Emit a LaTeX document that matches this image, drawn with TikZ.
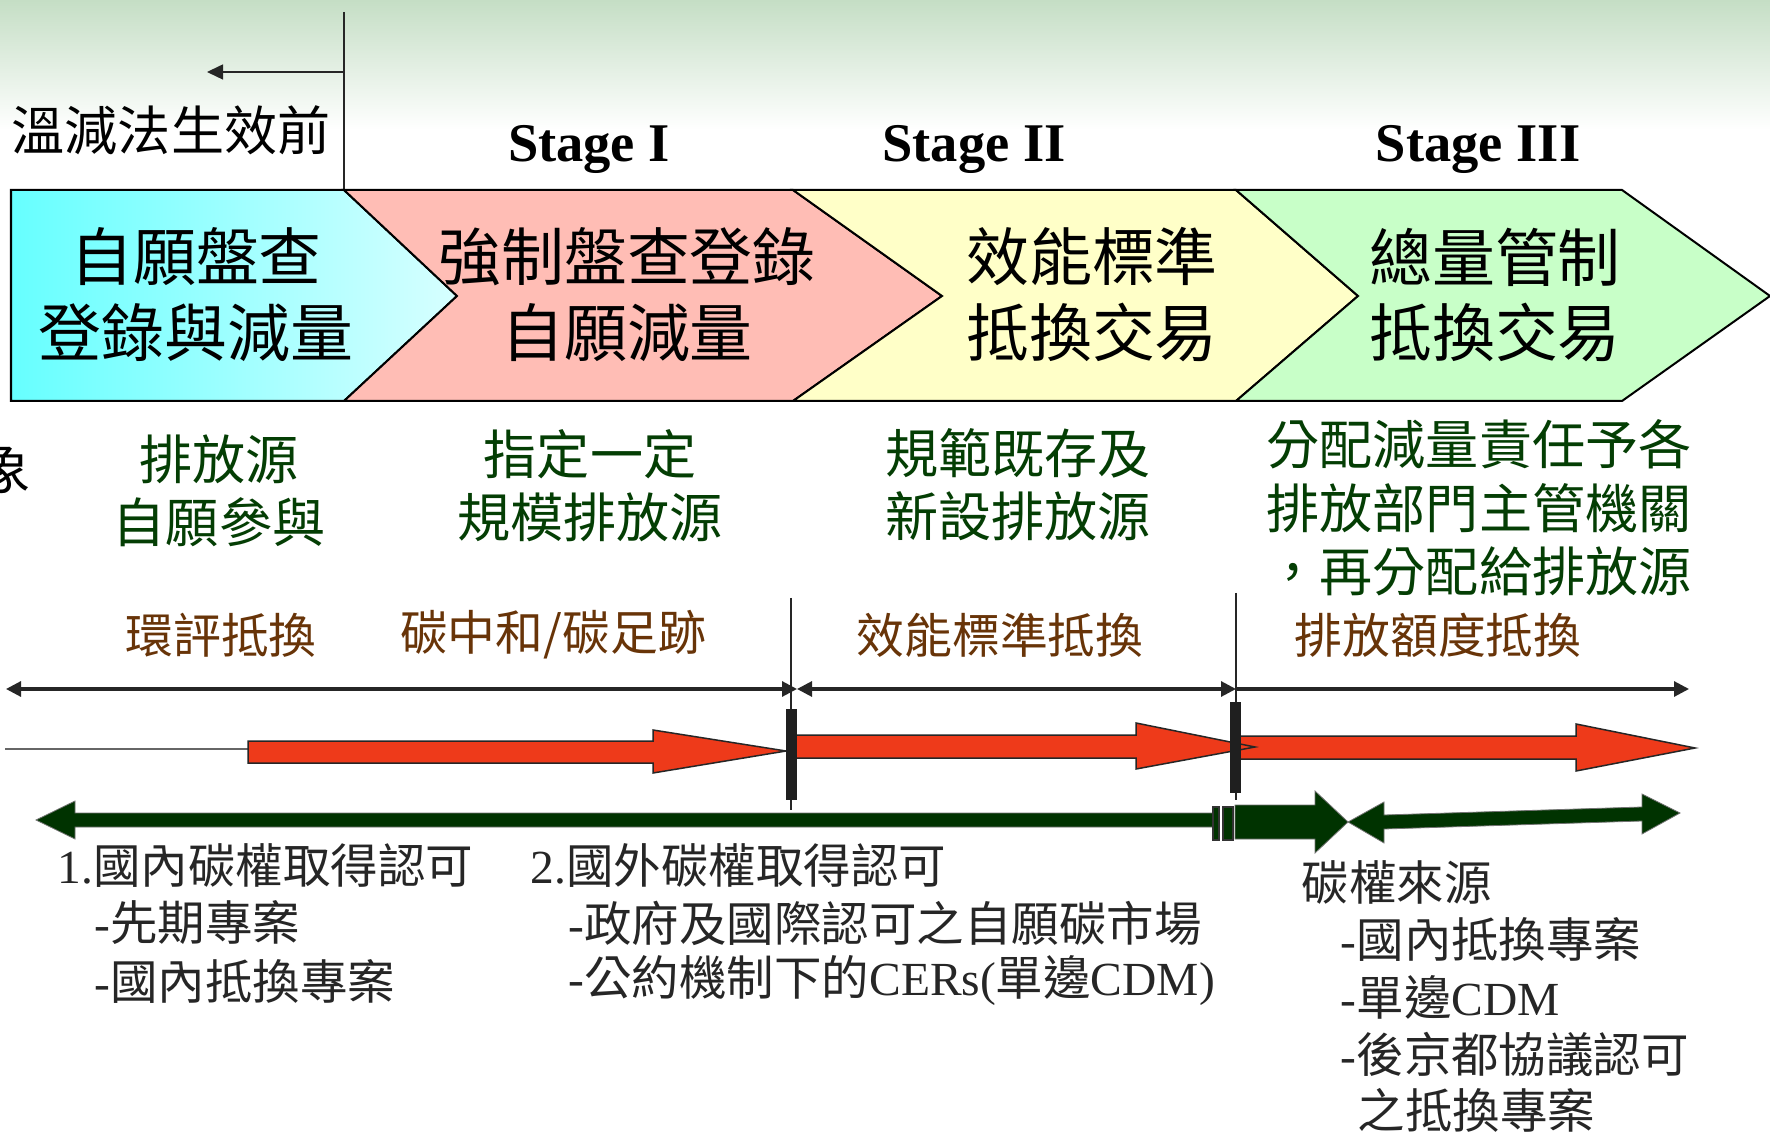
\documentclass[tikz,border=0pt]{standalone}
\usepackage{fontspec}
\setmainfont{Liberation Serif}
\newfontfamily\cj{Noto Sans CJK TC}
\usetikzlibrary{arrows.meta}
\definecolor{bggreen}{RGB}{197,222,197}
\definecolor{cyanL}{RGB}{102,255,255}
\definecolor{cyanR}{RGB}{215,255,255}
\definecolor{pinkF}{RGB}{255,189,181}
\definecolor{yellowF}{RGB}{255,255,200}
\definecolor{greenF}{RGB}{200,255,200}
\definecolor{tgreen}{RGB}{4,62,4}
\definecolor{tbrown}{RGB}{104,52,8}
\definecolor{tred}{RGB}{238,58,26}
\definecolor{dkgreen}{RGB}{0,51,0}
\tikzset{
  chev/.style={draw=black, line width=0.2mm},
  bigtxt/.style={font=\cj\fontsize{17.9}{21.6}\selectfont, align=center, inner sep=0},
  greentxt/.style={font=\cj\fontsize{15.1}{18}\selectfont, align=center, text=tgreen, inner sep=0},
  browntxt/.style={font=\cj\fontsize{13.6}{16}\selectfont, text=tbrown, inner sep=0},
  notetxt/.style={font=\fontsize{13.5}{16}\selectfont, text=black!85, anchor=west, inner sep=0},
  stagetxt/.style={font=\bfseries\fontsize{15.5}{18}\selectfont, anchor=base, inner sep=0},
  tline/.style={line width=0.3mm, draw=black!85},
  thinline/.style={line width=0.15mm, draw=black!85},
  redarrow/.style={fill=tred, draw=black!85, line width=0.15mm},
  grnarrow/.style={fill=dkgreen, draw=black!55, line width=0.08mm},
  bar/.style={fill=black!88, draw=black!88, line width=0.05mm},
}
\begin{document}
\begin{tikzpicture}[x=0.01cm,y=-0.01cm]
\useasboundingbox (0,0) rectangle (1770,1134);
\fill[white] (0,0) rectangle (1770,1134);
\shade[top color=bggreen, bottom color=white] (0,0) rectangle (1770,130);

% top marker
\coordinate (mtop) at (344,12);
\coordinate (mbot) at (344,190);
\coordinate (marr) at (344,72);
\coordinate (marrend) at (207,72);
\draw[thinline] (mtop) -- (mbot);
\draw[thinline, -{Triangle[length=1.6mm, width=1.5mm]}] (marr) -- (marrend);
\node[anchor=west, inner sep=0, font=\cj\fontsize{15.1}{18}\selectfont] (before) at (11,130) {溫減法生效前};

% stage labels
\node[stagetxt] (s1) at (589,162) {Stage I};
\node[stagetxt] (s2) at (974,162) {Stage II};
\node[stagetxt] (s3) at (1478,162) {Stage III};

% chevrons
\shade[left color=cyanL, right color=cyanR] (11,190) -- (344,190) -- (457,296) -- (344,401) -- (11,401) -- cycle;
\draw[chev] (11,190) -- (344,190) -- (457,296) -- (344,401) -- (11,401) -- cycle;
\draw[chev, fill=pinkF] (344,190) -- (793,190) -- (942,296) -- (793,401) -- (344,401) -- (457,296) -- cycle;
\draw[chev, fill=yellowF] (793,190) -- (1236,190) -- (1358,296) -- (1236,401) -- (793,401) -- (942,296) -- cycle;
\draw[chev, fill=greenF] (1236,190) -- (1622,190) -- (1770,296) -- (1622,401) -- (1236,401) -- (1358,296) -- cycle;

\node[bigtxt] (c1) at (196,295) {自願盤查\\登錄與減量};
\node[bigtxt] (c2) at (627,295) {強制盤查登錄\\自願減量};
\node[bigtxt] (c3) at (1092,295) {效能標準\\抵換交易};
\node[bigtxt] (c4) at (1495,295) {總量管制\\抵換交易};

% partially visible character at left edge
\node[inner sep=0, font=\cj\fontsize{15.5}{18}\selectfont] (cut) at (4,469) {象};

% green descriptions
\node[greentxt] (g1) at (219,491) {排放源\\自願參與};
\node[greentxt] (g2) at (590,486) {指定一定\\規模排放源};
\node[greentxt] (g3) at (1018,485) {規範既存及\\新設排放源};
\node[greentxt] (g4) at (1479,508) {分配減量責任予各\\排放部門主管機關\\，再分配給排放源};

% brown labels
\node[browntxt] (b1) at (221,635) {環評抵換};
\node[browntxt] (b2) at (553,635) {碳中和/碳足跡};
\node[browntxt] (b3) at (1000,635) {效能標準抵換};
\node[browntxt] (b4) at (1438,635) {排放額度抵換};

% timeline coordinates
\coordinate (t0) at (6,689);
\coordinate (t1) at (797,689);
\coordinate (t2) at (1236,689);
\coordinate (t3) at (1689,689);
\coordinate (v1a) at (791,598);
\coordinate (v1b) at (791,810);
\coordinate (v2a) at (1236,593);
\coordinate (v2b) at (1236,800);

\draw[thinline] (v1a) -- (v1b);
\draw[thinline] (v2a) -- (v2b);
\draw[tline, {Triangle[length=1.5mm, width=1.5mm]}-{Triangle[length=1.5mm, width=1.5mm]}] (t0) -- (t1);
\draw[tline, {Triangle[length=1.5mm, width=1.5mm]}-{Triangle[length=1.5mm, width=1.5mm]}] (t1) -- (t2);
\draw[tline, -{Triangle[length=1.5mm, width=1.5mm]}] (t2) -- (t3);

% red arrows
\coordinate (r0) at (5,749);
\coordinate (r1) at (248,749);
\draw[line width=0.2mm, draw=black!60] (r0) -- (r1);
\draw[redarrow] (1240,736) -- (1576,736) -- (1576,724) -- (1695,748) -- (1576,771) -- (1576,759) -- (1240,759) -- cycle;
\draw[redarrow] (248,741) -- (653,741) -- (653,730) -- (786,751) -- (653,773) -- (653,763) -- (248,763) -- cycle;
\draw[redarrow] (796,735) -- (1136,735) -- (1136,723) -- (1255,747) -- (1136,769) -- (1136,758) -- (796,758) -- cycle;
\fill[bar] (786,709) rectangle (796,799);
\fill[bar] (1230,702) rectangle (1240,792);

% green arrows
\draw[grnarrow] (36,820) -- (75,801) -- (75,813) -- (1213,813) -- (1213,827) -- (75,827) -- (75,839) -- cycle;
\draw[grnarrow, draw=black!80, line width=0.12mm] (1213,807) rectangle (1219,840);
\draw[grnarrow, draw=black!80, line width=0.12mm] (1223,807) rectangle (1233,840);
\draw[grnarrow] (1235,805) -- (1315,805) -- (1315,791) -- (1348,822) -- (1315,853) -- (1315,839) -- (1235,839) -- cycle;
\draw[grnarrow] (1348,822) -- (1384,802) -- (1384,815) -- (1642,807) -- (1642,794) -- (1680,813) -- (1642,834) -- (1642,821) -- (1384,829) -- (1384,843) -- cycle;

% notes
\node[notetxt] (n11) at (57,866) {1.{\cj 國內碳權取得認可}};
\node[notetxt] (n12) at (94,923) {-{\cj 先期專案}};
\node[notetxt] (n13) at (94,981) {-{\cj 國內抵換專案}};
\node[notetxt] (n21) at (530,866) {2.{\cj 國外碳權取得認可}};
\node[notetxt] (n22) at (568,923) {-{\cj 政府及國際認可之自願碳市場}};
\node[notetxt] (n23) at (568,981) {-{\cj 公約機制下的}CERs({\cj 單邊}CDM)};
\node[notetxt] (n31) at (1301,882) {{\cj 碳權來源}};
\node[notetxt] (n32) at (1340,939) {-{\cj 國內抵換專案}};
\node[notetxt] (n33) at (1340,997) {-{\cj 單邊}CDM};
\node[notetxt] (n34) at (1340,1054) {-{\cj 後京都協議認可}};
\node[notetxt] (n35) at (1357,1110) {{\cj 之抵換專案}};
\end{tikzpicture}
\end{document}
